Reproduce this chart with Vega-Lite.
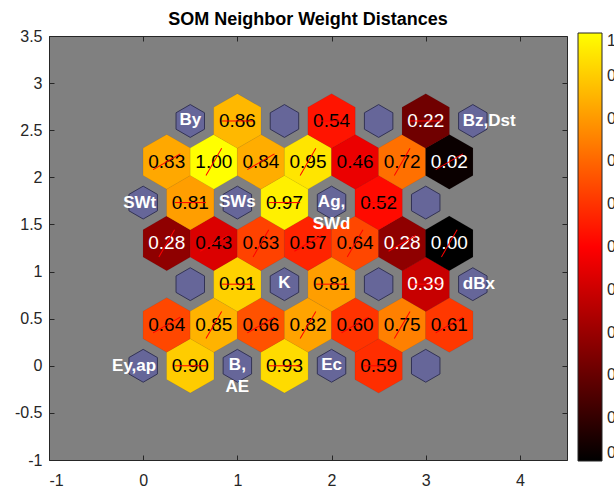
{
  "$schema": "https://vega.github.io/schema/vega-lite/v6.json",
  "width": 518,
  "height": 424,
  "autosize": {"type": "none"},
  "padding": {"left": 49, "top": 36, "right": 47, "bottom": 30},
  "background": "white",
  "title": {"text": "SOM Neighbor Weight Distances", "fontSize": 18, "fontWeight": "bold", "font": "Liberation Sans", "color": "black", "anchor": "middle", "frame": "group", "baseline": "alphabetic", "offset": 9, "dy": 24},
  "config": {
    "view": {"fill": "#808080", "stroke": "#262626", "strokeWidth": 1},
    "font": "Liberation Sans",
    "axis": {"domain": false, "grid": false, "tickColor": "#262626", "tickSize": -5, "labelFontSize": 16, "labelColor": "#262626", "labelFont": "Liberation Sans", "title": null}
  },
  "datasets": {
    "links": [
      {"x": 0.5, "y": 0, "v": 0.90, "dir": "h"},
      {"x": 1.5, "y": 0, "v": 0.93, "dir": "h"},
      {"x": 2.5, "y": 0, "v": 0.59, "dir": "h"},
      {"x": 0.25, "y": 0.433, "v": 0.64, "dir": "up"},
      {"x": 0.75, "y": 0.433, "v": 0.85, "dir": "down"},
      {"x": 1.25, "y": 0.433, "v": 0.66, "dir": "up"},
      {"x": 1.75, "y": 0.433, "v": 0.82, "dir": "down"},
      {"x": 2.25, "y": 0.433, "v": 0.60, "dir": "up"},
      {"x": 2.75, "y": 0.433, "v": 0.75, "dir": "down"},
      {"x": 3.25, "y": 0.433, "v": 0.61, "dir": "up"},
      {"x": 1.0, "y": 0.866, "v": 0.91, "dir": "h"},
      {"x": 2.0, "y": 0.866, "v": 0.81, "dir": "h"},
      {"x": 3.0, "y": 0.866, "v": 0.39, "dir": "h"},
      {"x": 0.25, "y": 1.299, "v": 0.28, "dir": "down"},
      {"x": 0.75, "y": 1.299, "v": 0.43, "dir": "up"},
      {"x": 1.25, "y": 1.299, "v": 0.63, "dir": "down"},
      {"x": 1.75, "y": 1.299, "v": 0.57, "dir": "up"},
      {"x": 2.25, "y": 1.299, "v": 0.64, "dir": "down"},
      {"x": 2.75, "y": 1.299, "v": 0.28, "dir": "up"},
      {"x": 3.25, "y": 1.299, "v": 0.00, "dir": "down"},
      {"x": 0.5, "y": 1.732, "v": 0.81, "dir": "h"},
      {"x": 1.5, "y": 1.732, "v": 0.97, "dir": "h"},
      {"x": 2.5, "y": 1.732, "v": 0.52, "dir": "h"},
      {"x": 0.25, "y": 2.165, "v": 0.83, "dir": "up"},
      {"x": 0.75, "y": 2.165, "v": 1.00, "dir": "down"},
      {"x": 1.25, "y": 2.165, "v": 0.84, "dir": "up"},
      {"x": 1.75, "y": 2.165, "v": 0.95, "dir": "down"},
      {"x": 2.25, "y": 2.165, "v": 0.46, "dir": "up"},
      {"x": 2.75, "y": 2.165, "v": 0.72, "dir": "down"},
      {"x": 3.25, "y": 2.165, "v": 0.02, "dir": "up"},
      {"x": 1.0, "y": 2.598, "v": 0.86, "dir": "h"},
      {"x": 2.0, "y": 2.598, "v": 0.54, "dir": "h"},
      {"x": 3.0, "y": 2.598, "v": 0.22, "dir": "h"}
    ],
    "neurons": [
      {"x": 0, "y": 0, "lab": "Ey,ap"},
      {"x": 1, "y": 0, "lab": "B,\nAE"},
      {"x": 2, "y": 0, "lab": "Ec"},
      {"x": 3, "y": 0, "lab": ""},
      {"x": 0.5, "y": 0.866, "lab": ""},
      {"x": 1.5, "y": 0.866, "lab": "K"},
      {"x": 2.5, "y": 0.866, "lab": ""},
      {"x": 3.5, "y": 0.866, "lab": "dBx"},
      {"x": 0, "y": 1.732, "lab": "SWt"},
      {"x": 1, "y": 1.732, "lab": "SWs"},
      {"x": 2, "y": 1.732, "lab": "Ag,\nSWd"},
      {"x": 3, "y": 1.732, "lab": ""},
      {"x": 0.5, "y": 2.598, "lab": "By"},
      {"x": 1.5, "y": 2.598, "lab": ""},
      {"x": 2.5, "y": 2.598, "lab": ""},
      {"x": 3.5, "y": 2.598, "lab": "Bz,Dst"}
    ]
  },
  "layer": [
    {
      "data": {"name": "links"},
      "mark": {"type": "point", "shape": "M0,-1L0.866,-0.5L0.866,0.5L0,1L-0.866,0.5L-0.866,-0.5Z", "filled": true, "size": 2990, "opacity": 1, "stroke": "#000000", "strokeOpacity": 0.12, "strokeWidth": 0.6},
      "encoding": {
        "x": {"field": "x", "type": "quantitative", "scale": {"domain": [-1, 4.5], "nice": false, "zero": false}, "axis": {"orient": "bottom", "values": [-1, 0, 1, 2, 3, 4], "labelExpr": "'' + datum.value", "labelPadding": 17}},
        "y": {"field": "y", "type": "quantitative", "scale": {"domain": [-1, 3.5], "nice": false, "zero": false}, "axis": {"orient": "left", "values": [-1, -0.5, 0, 0.5, 1, 1.5, 2, 2.5, 3, 3.5], "labelExpr": "'' + datum.value", "labelPadding": 12}},
        "color": {
          "field": "v", "type": "quantitative",
          "scale": {"type": "linear", "domain": [0, 0.5, 1], "range": ["#000000", "#ff0000", "#ffff00"], "interpolate": "rgb", "zero": false, "nice": false},
          "legend": {"orient": "none", "legendX": 529, "legendY": -3, "direction": "vertical", "gradientLength": 428, "gradientThickness": 24, "title": null, "values": [0, 0.1, 0.2, 0.3, 0.4, 0.5, 0.6, 0.7, 0.8, 0.9, 1], "labelExpr": "'' + datum.value", "labelFontSize": 16, "labelColor": "#262626", "labelOverlap": false, "labelOffset": 5, "gradientStrokeColor": "#262626", "gradientStrokeWidth": 1}
        }
      }
    },
    {
      "data": {"name": "neurons"},
      "mark": {"type": "point", "shape": "M0,-1L0.866,-0.5L0.866,0.5L0,1L-0.866,0.5L-0.866,-0.5Z", "filled": true, "size": 1080, "opacity": 1, "fill": "#666699", "stroke": "#333355", "strokeWidth": 1},
      "encoding": {
        "x": {"field": "x", "type": "quantitative", "axis": {"orient": "top", "labels": false, "values": [-1, 0, 1, 2, 3, 4]}},
        "y": {"field": "y", "type": "quantitative", "axis": {"orient": "right", "labels": false, "values": [-1, -0.5, 0, 0.5, 1, 1.5, 2, 2.5, 3, 3.5]}}
      }
    },
    {
      "data": {"name": "links"},
      "mark": {"type": "text", "fontSize": 19, "font": "Liberation Sans"},
      "encoding": {
        "x": {"field": "x", "type": "quantitative", "axis": null},
        "y": {"field": "y", "type": "quantitative", "axis": null},
        "text": {"field": "v", "type": "quantitative", "format": ".2f"},
        "color": {"condition": {"test": "datum.v < 0.4", "value": "white"}, "value": "black"}
      }
    },
    {
      "data": {"name": "links"},
      "mark": {"type": "point", "shape": "M-1,0L1,0", "filled": false, "size": 986, "opacity": 1, "stroke": "#ff0000", "strokeWidth": 1},
      "encoding": {
        "x": {"field": "x", "type": "quantitative", "axis": null},
        "y": {"field": "y", "type": "quantitative", "axis": null},
        "angle": {"field": "dir", "type": "nominal", "scale": {"domain": ["h", "up", "down"], "range": [0, 300, 60]}, "legend": null}
      }
    },
    {
      "data": {"name": "neurons"},
      "transform": [{"filter": "datum.x <= 0"}],
      "mark": {"type": "text", "fontSize": 17, "fontWeight": "bold", "font": "Liberation Sans", "color": "white", "align": "right", "dx": 13},
      "encoding": {
        "x": {"field": "x", "type": "quantitative", "axis": null},
        "y": {"field": "y", "type": "quantitative", "axis": null},
        "text": {"field": "lab"}
      }
    },
    {
      "data": {"name": "neurons"},
      "transform": [{"filter": "datum.x >= 3.5"}],
      "mark": {"type": "text", "fontSize": 17, "fontWeight": "bold", "font": "Liberation Sans", "color": "white", "align": "left", "dx": -10},
      "encoding": {
        "x": {"field": "x", "type": "quantitative", "axis": null},
        "y": {"field": "y", "type": "quantitative", "axis": null},
        "text": {"field": "lab"}
      }
    },
    {
      "data": {"name": "neurons"},
      "transform": [{"filter": "datum.x > 0 && datum.x < 3.5"}],
      "mark": {"type": "text", "fontSize": 17, "fontWeight": "bold", "font": "Liberation Sans", "color": "white", "align": "center", "lineBreak": "\n", "lineHeight": 22, "dy": -1},
      "encoding": {
        "x": {"field": "x", "type": "quantitative", "axis": null},
        "y": {"field": "y", "type": "quantitative", "axis": null},
        "text": {"field": "lab"}
      }
    }
  ],
  "resolve": {"axis": {"x": "independent", "y": "independent"}}
}
